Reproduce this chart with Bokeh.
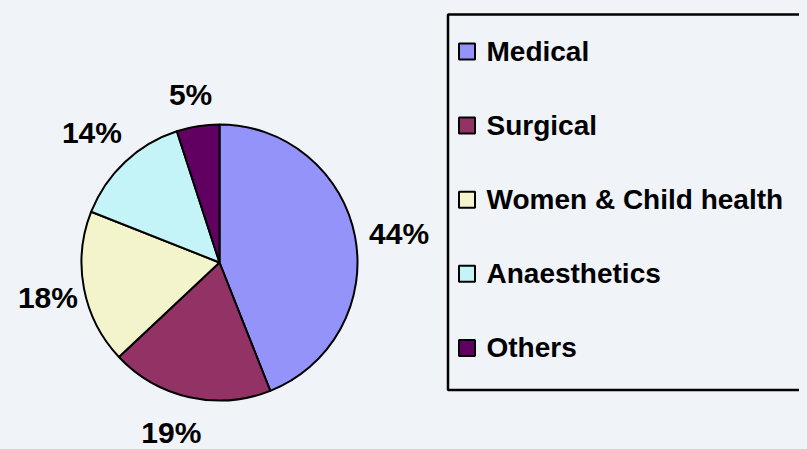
import math
from bokeh.plotting import figure
from bokeh.models import Range1d, ColumnDataSource, GlobalInlineStyleSheet
from bokeh.core.properties import value
from bokeh.embed import file_html
from bokeh.resources import INLINE

# ---- data ----
categories = ["Medical", "Surgical", "Women & Child health", "Anaesthetics", "Others"]
percents = [44, 19, 18, 14, 5]
pct_labels = ["44%", "19%", "18%", "14%", "5%"]
colors = ["#9393F9", "#933365", "#F4F4CC", "#C4F4F8", "#620062"]

# ---- layout (pixel-like data space, y up) ----
BG = "#F0F3F8"
W, H = 799, 441
cx, cy, R = 219, 449 - 262, 138
label_nudge_deg = [1.5, 3.2, -0.6, -1.3, -0.8]
label_radius = [182, 177, 175, 182, 170]

p = figure(width=W, height=H, output_backend="svg", toolbar_location=None,
           x_range=Range1d(8, 8 + W), y_range=Range1d(0, H),
           min_border=0, outline_line_color=None,
           background_fill_color=BG, border_fill_color=BG)
p.axis.visible = False
p.grid.visible = False
p.stylesheets = [GlobalInlineStyleSheet(
    css="html {background-color: #F0F3F8; margin: 0;} body {background-color: #F0F3F8; margin: 8px;}")]

total = float(sum(percents))
starts, ends, lx, ly = [], [], [], []
cum = 0.0
for i, v in enumerate(percents):
    f0 = cum / total
    cum += v
    f1 = cum / total
    starts.append(math.pi / 2 - 2 * math.pi * f0)
    ends.append(math.pi / 2 - 2 * math.pi * f1)
    mid_deg = (f0 + f1) / 2 * 360 + label_nudge_deg[i]
    th = math.radians(mid_deg)
    lx.append(cx + label_radius[i] * math.sin(th))
    ly.append(cy + label_radius[i] * math.cos(th))

src = ColumnDataSource(dict(start=starts, end=ends, color=colors, cat=categories))
p.wedge(x=cx, y=cy, radius=R, start_angle="start", end_angle="end", direction="clock",
        fill_color="color", line_color="black", line_width=2, source=src)

p.text(x=lx, y=ly, text=pct_labels, text_align="center", text_baseline="middle",
       text_font=value("Liberation Sans"), text_font_style="bold",
       text_font_size="30px", text_color="black")

# legend box
p.quad(left=447.5, right=830, top=449 - 14, bottom=449 - 389.5,
       fill_color=None, line_color="black", line_width=2.5)

row0, step = 51, 74.1
sq_y = [449 - (row0 + step * i) for i in range(len(categories))]
p.rect(x=[466.5] * len(categories), y=sq_y, width=16, height=16,
       fill_color=colors, line_color="black", line_width=2)
p.text(x=[486] * len(categories), y=sq_y, text=categories, text_align="left",
       text_baseline="middle", text_font=value("Liberation Sans"),
       text_font_style="bold", text_font_size="28px", text_color="black")

open("out.html", "w").write(file_html(p, INLINE))
